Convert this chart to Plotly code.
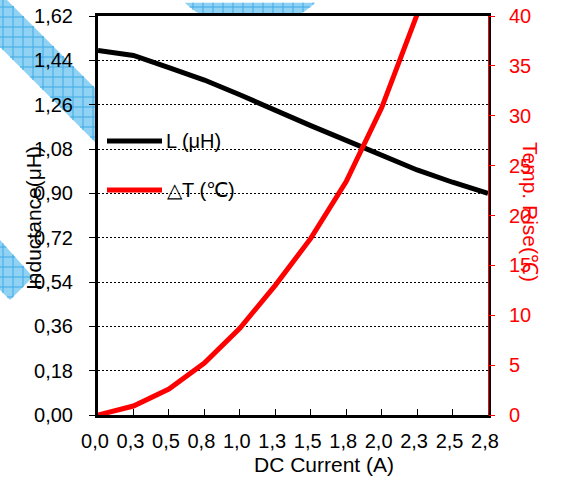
import math
import plotly.graph_objects as go

# DC bias characteristics: inductance and temperature rise vs. current
current_a = [0.0, 0.25, 0.5, 0.75, 1.0, 1.25, 1.5, 1.75, 2.0, 2.25, 2.5, 2.75]
inductance_uh = [1.48, 1.46, 1.41, 1.36, 1.30, 1.235, 1.175, 1.115, 1.055, 0.995, 0.945, 0.90]
temp_rise_c = [0.0, 0.9, 2.6, 5.2, 8.7, 13.0, 17.7, 23.4, 30.8, 39.8, 49.5, 60.0]
x_tick_labels = ["0,0", "0,3", "0,5", "0,8", "1,0", "1,3", "1,5", "1,8", "2,0", "2,3", "2,5", "2,8"]

W, H = 562, 479
ML, MR, MT, MB = 98, 74, 16, 64
PW, PH = W - ML - MR, H - MT - MB
FONT = "Liberation Sans, Arial, sans-serif"
WM_FILL, WM_LINE = "#8fd2f4", "#3faae6"


def px_x(p):
    return (p - ML) / PW


def px_y(p):
    return (H - MB - p) / PH


def path(points):
    return "M " + " L ".join(f"{px_x(a):.4f},{px_y(b):.4f}" for a, b in points) + " Z"


def span(poly, c, axis):
    """Extent of a convex polygon along the line x=c (axis 0) or y=c (axis 1)."""
    hits = []
    n = len(poly)
    for i in range(n):
        p, q = poly[i], poly[(i + 1) % n]
        a, b = p[axis], q[axis]
        if (a - c) * (b - c) <= 0 and a != b:
            t = (c - a) / (b - a)
            hits.append(p[1 - axis] + t * (q[1 - axis] - p[1 - axis]))
    return (min(hits), max(hits)) if len(hits) >= 2 else None


def hatched(poly, step=10, ox=3, oy=7):
    out = [dict(type="path", xref="paper", yref="paper", layer="below",
                fillcolor=WM_FILL, line=dict(width=0), path=path(poly))]
    xs = [p[0] for p in poly]
    ys = [p[1] for p in poly]
    ln = dict(type="line", xref="paper", yref="paper", layer="below",
              line=dict(color=WM_LINE, width=1))
    c = ox + step * math.ceil((min(xs) - ox) / step)
    while c <= max(xs):
        s = span(poly, c, 0)
        if s:
            out.append(dict(ln, x0=px_x(c), x1=px_x(c), y0=px_y(s[0]), y1=px_y(s[1])))
        c += step
    c = oy + step * math.ceil((min(ys) - oy) / step)
    while c <= max(ys):
        s = span(poly, c, 1)
        if s:
            out.append(dict(ln, x0=px_x(s[0]), x1=px_x(s[1]), y0=px_y(c), y1=px_y(c)))
        c += step
    return out


fig = go.Figure()
fig.add_trace(go.Scatter(x=current_a, y=inductance_uh, mode="lines", name="L (μH)",
                         line=dict(color="black", width=5), yaxis="y", showlegend=False))
fig.add_trace(go.Scatter(x=current_a, y=temp_rise_c, mode="lines", name="△T (℃)",
                         line=dict(color="#ff0000", width=5), yaxis="y2", showlegend=False))

# light-blue hatched decoration around the plot frame
band = [(-10, -17), (96, 89), (96, 143), (-10, 37)]
diamond = [(0, 240), (33, 277), (10, 300), (0, 290)]
cx, cy, r = 250, -67, 95.5
arc = []
for k in range(41):
    ang = math.pi * (0.02 + 0.96 * k / 40)
    y = cy + r * math.sin(ang)
    if y >= -2:
        arc.append((cx + r * math.cos(ang), min(y, 14.5)))
blob = arc[::-1]

shapes = hatched(band) + hatched(diamond) + hatched(blob)

# legend keys
for yk, col in [(141, "black"), (190, "#ff0000")]:
    shapes.append(dict(type="line", xref="paper", yref="paper",
                       x0=px_x(107), x1=px_x(162), y0=px_y(yk), y1=px_y(yk),
                       line=dict(color=col, width=5)))

annotations = [
    dict(text="L (μH)", x=px_x(164), y=px_y(141), xanchor="left", yanchor="middle"),
    dict(text="△T (℃)", x=px_x(165), y=px_y(190), xanchor="left", yanchor="middle"),
    dict(text="DC Current (A)", x=px_x(324), y=px_y(464), xanchor="center", yanchor="middle",
         font=dict(size=21, color="black", family=FONT)),
    dict(text="Inductance(μH)", x=px_x(33), y=px_y(218), xanchor="center", yanchor="middle",
         textangle=-90, font=dict(size=21, color="black", family=FONT)),
    dict(text="Temp. Rise(℃)", x=px_x(531), y=px_y(212), xanchor="center", yanchor="middle",
         textangle=90, font=dict(size=21, color="#ff0000", family=FONT)),
]
for a in annotations:
    a.update(xref="paper", yref="paper", showarrow=False)
    a.setdefault("font", dict(size=20, color="black", family=FONT))

fig.update_layout(
    width=W, height=H,
    margin=dict(l=ML, r=MR, t=MT, b=MB, autoexpand=False),
    paper_bgcolor="white", plot_bgcolor="white",
    font=dict(family=FONT, size=20, color="black"),
    separators=", ",
    shapes=shapes, annotations=annotations,
    xaxis=dict(range=[0, 2.75], tickvals=current_a, ticktext=x_tick_labels,
               showgrid=False, zeroline=False, automargin=False,
               showline=True, linecolor="black", linewidth=3, mirror=True,
               ticks="inside", ticklen=6, tickcolor="black", tickwidth=1,
               ticklabelstandoff=6, ticklabelshift=-3,
               tickfont=dict(size=20, color="black")),
    yaxis=dict(range=[0, 1.62], dtick=0.18, tick0=0, tickformat=".2f",
               showgrid=True, gridcolor="black", gridwidth=1, griddash="2px,2px",
               zeroline=False, automargin=False,
               showline=True, linecolor="black", linewidth=3, mirror=True,
               ticks="outside", ticklen=6, tickcolor="black", tickwidth=1,
               ticklabelstandoff=12,
               tickfont=dict(size=20, color="black")),
    yaxis2=dict(range=[0, 40], dtick=5, tick0=0, overlaying="y", side="right",
                showgrid=False, zeroline=False, automargin=False,
                showline=True, linecolor="#ff0000", linewidth=1,
                ticks="outside", ticklen=6, tickcolor="#ff0000", tickwidth=1,
                ticklabelstandoff=10,
                tickfont=dict(size=20, color="#ff0000")),
)

fig.write_html("out.html")
